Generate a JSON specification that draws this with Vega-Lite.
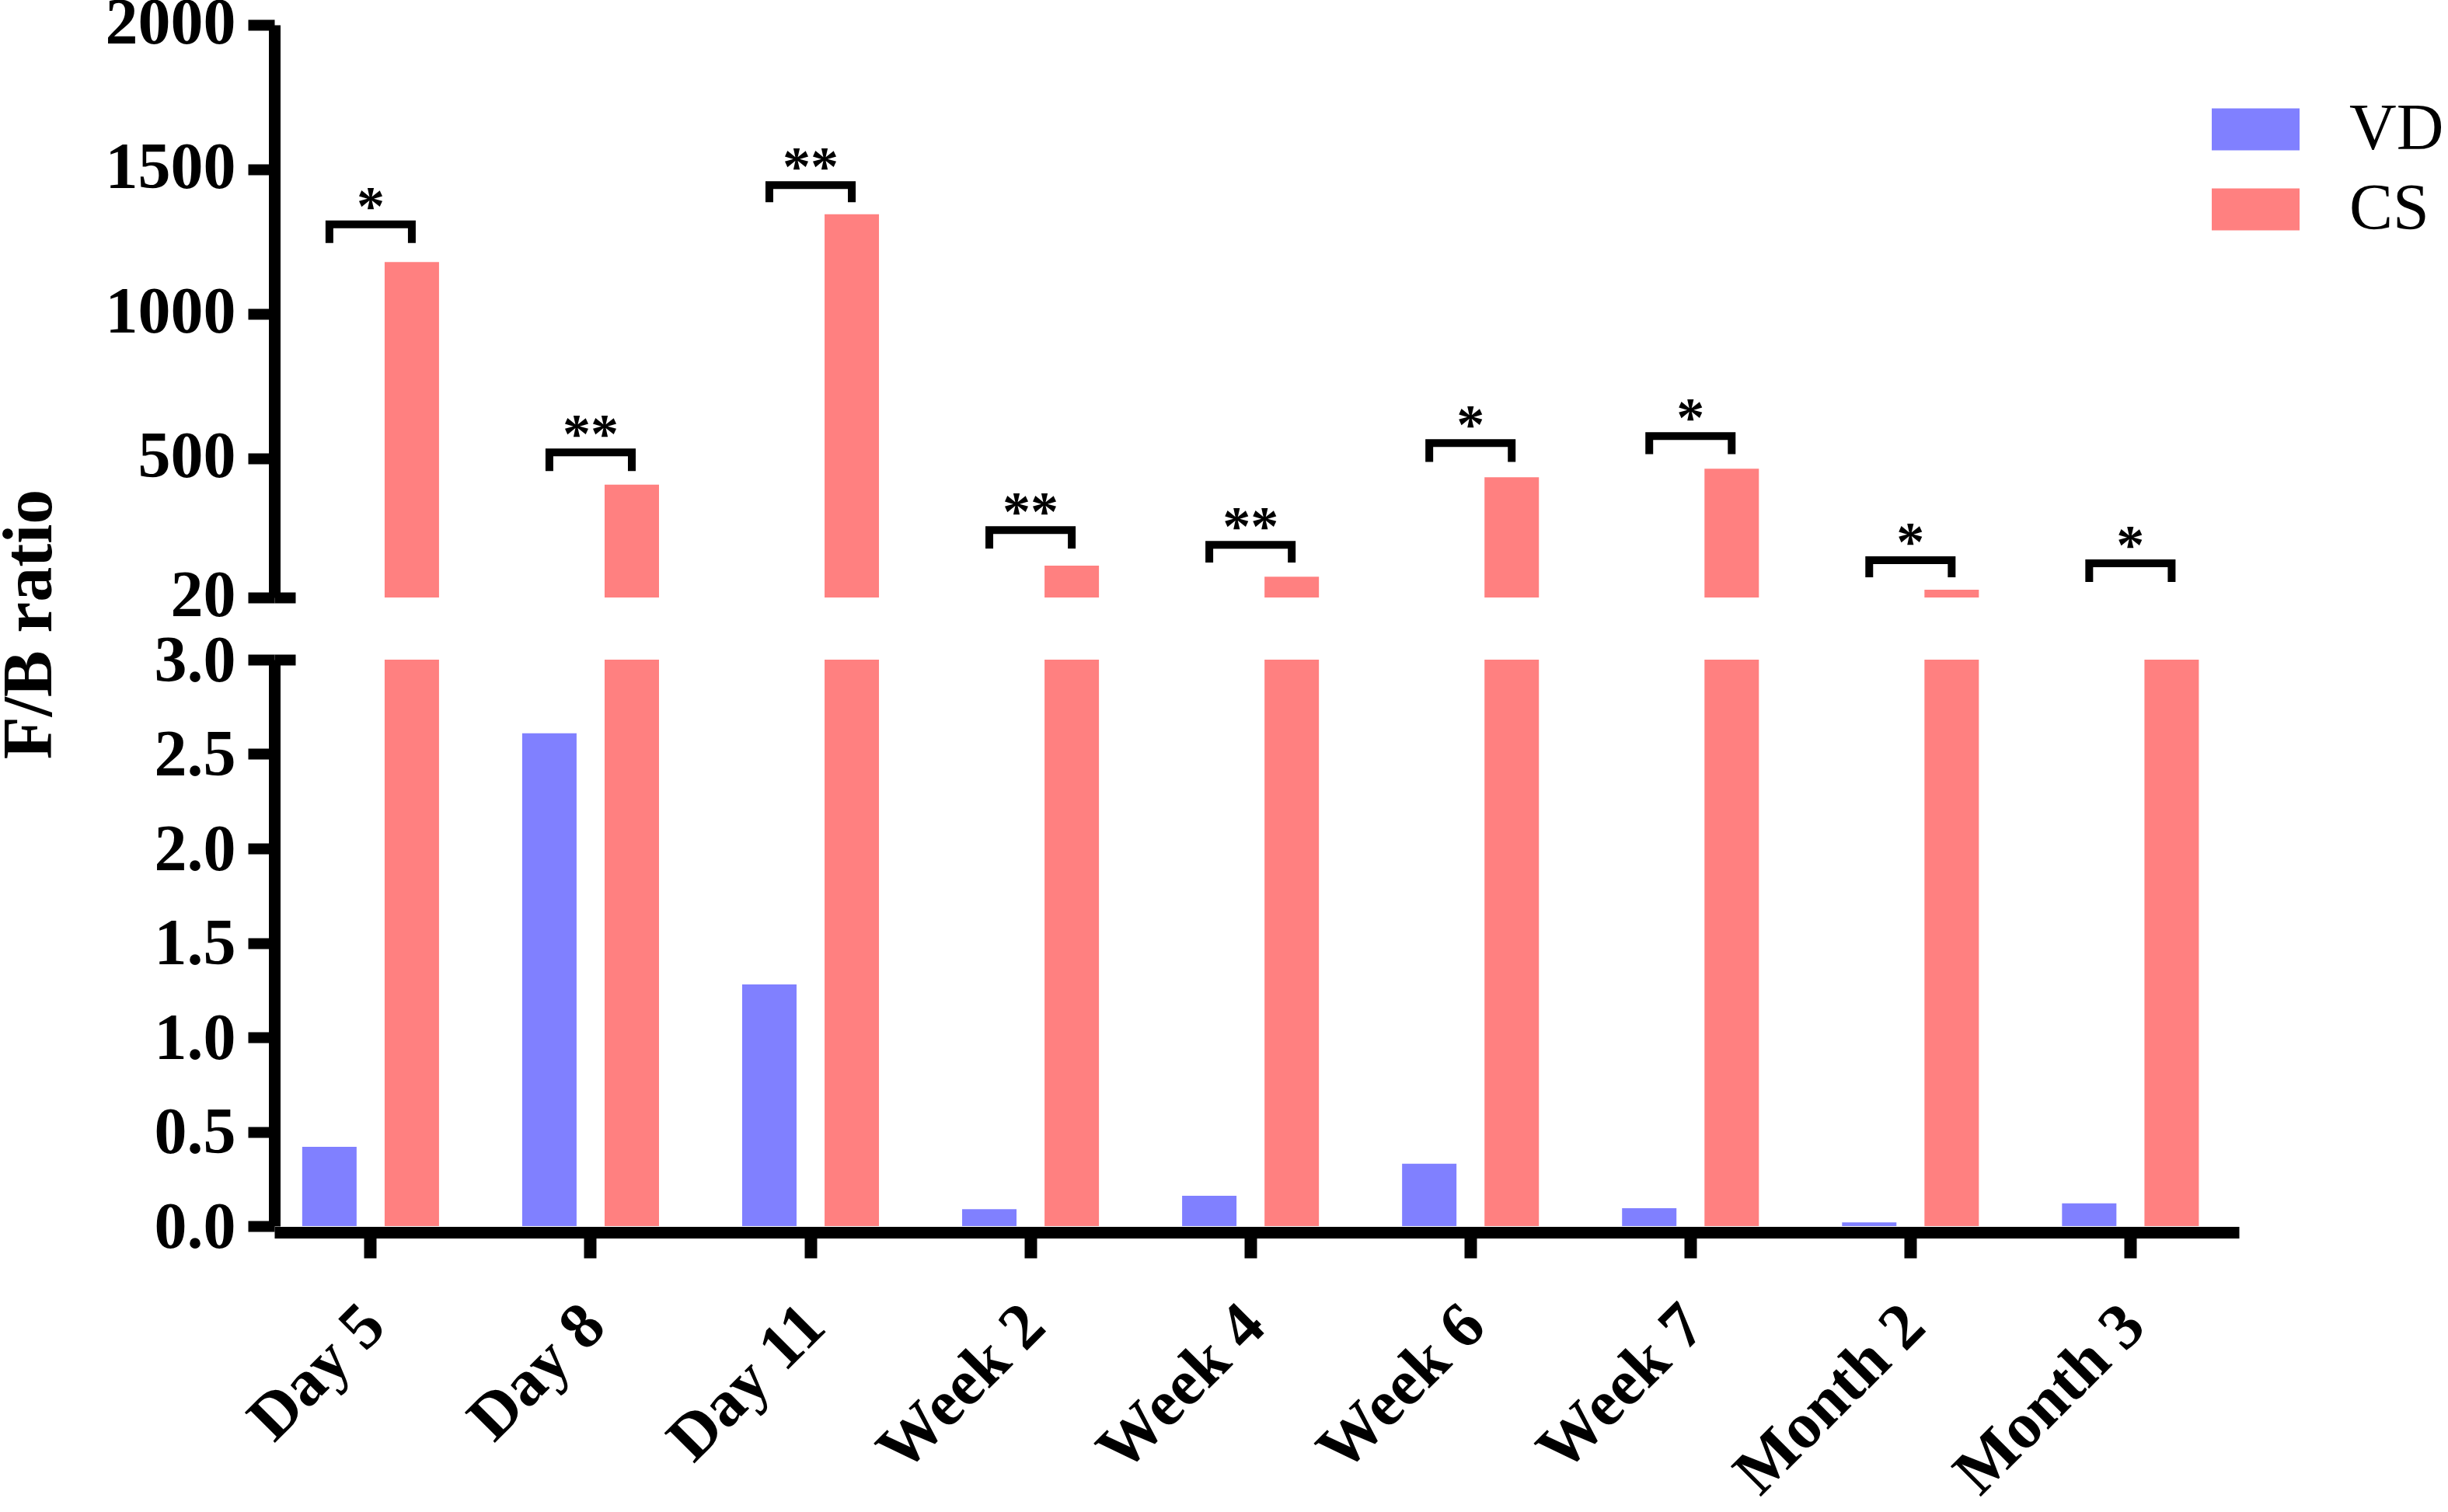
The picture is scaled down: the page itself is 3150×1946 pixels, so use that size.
{
  "$schema": "https://vega.github.io/schema/vega-lite/v6.json",
  "background": "white",
  "padding": {"left": -6, "top": -12, "right": 0, "bottom": 0},
  "title": {
    "text": "F/B ratio",
    "orient": "left",
    "anchor": "middle",
    "font": "Liberation Serif",
    "fontSize": 90,
    "fontWeight": "bold",
    "color": "black",
    "offset": 50,
    "dx": 160
  },
  "config": {
    "view": {"stroke": null},
    "font": "Liberation Serif",
    "axis": {
      "domainColor": "black",
      "domainWidth": 15,
      "tickColor": "black",
      "tickWidth": 14,
      "tickSize": 34,
      "labelFont": "Liberation Serif",
      "labelFontWeight": "bold",
      "labelColor": "black",
      "labelFontSize": 84,
      "labelFlush": false,
      "labelOverlap": false,
      "labelLimit": 0,
      "grid": false,
      "title": null
    }
  },
  "datasets": {
    "bars": [
      {"Time": "Day 5", "Group": "VD", "FB": 0.42},
      {"Time": "Day 5", "Group": "CS", "FB": 1180},
      {"Time": "Day 8", "Group": "VD", "FB": 2.61},
      {"Time": "Day 8", "Group": "CS", "FB": 410},
      {"Time": "Day 11", "Group": "VD", "FB": 1.28},
      {"Time": "Day 11", "Group": "CS", "FB": 1345},
      {"Time": "Week 2", "Group": "VD", "FB": 0.09},
      {"Time": "Week 2", "Group": "CS", "FB": 130},
      {"Time": "Week 4", "Group": "VD", "FB": 0.16},
      {"Time": "Week 4", "Group": "CS", "FB": 92},
      {"Time": "Week 6", "Group": "VD", "FB": 0.33},
      {"Time": "Week 6", "Group": "CS", "FB": 436},
      {"Time": "Week 7", "Group": "VD", "FB": 0.095},
      {"Time": "Week 7", "Group": "CS", "FB": 465},
      {"Time": "Month 2", "Group": "VD", "FB": 0.02},
      {"Time": "Month 2", "Group": "CS", "FB": 47},
      {"Time": "Month 3", "Group": "VD", "FB": 0.12},
      {"Time": "Month 3", "Group": "CS", "FB": 12}
    ],
    "brackets": [
      {"Time": "Day 5", "Group": "VD", "FB": 1246, "ord": 1},
      {"Time": "Day 5", "Group": "VD", "FB": 1310, "ord": 2},
      {"Time": "Day 5", "Group": "CS", "FB": 1310, "ord": 3},
      {"Time": "Day 5", "Group": "CS", "FB": 1246, "ord": 4},
      {"Time": "Day 8", "Group": "VD", "FB": 457, "ord": 1},
      {"Time": "Day 8", "Group": "VD", "FB": 522, "ord": 2},
      {"Time": "Day 8", "Group": "CS", "FB": 522, "ord": 3},
      {"Time": "Day 8", "Group": "CS", "FB": 457, "ord": 4},
      {"Time": "Day 11", "Group": "VD", "FB": 1387, "ord": 1},
      {"Time": "Day 11", "Group": "VD", "FB": 1446, "ord": 2},
      {"Time": "Day 11", "Group": "CS", "FB": 1446, "ord": 3},
      {"Time": "Day 11", "Group": "CS", "FB": 1387, "ord": 4},
      {"Time": "Week 2", "Group": "VD", "FB": 189, "ord": 1},
      {"Time": "Week 2", "Group": "VD", "FB": 253, "ord": 2},
      {"Time": "Week 2", "Group": "CS", "FB": 253, "ord": 3},
      {"Time": "Week 2", "Group": "CS", "FB": 189, "ord": 4},
      {"Time": "Week 4", "Group": "VD", "FB": 141, "ord": 1},
      {"Time": "Week 4", "Group": "VD", "FB": 202, "ord": 2},
      {"Time": "Week 4", "Group": "CS", "FB": 202, "ord": 3},
      {"Time": "Week 4", "Group": "CS", "FB": 141, "ord": 4},
      {"Time": "Week 6", "Group": "VD", "FB": 489, "ord": 1},
      {"Time": "Week 6", "Group": "VD", "FB": 554, "ord": 2},
      {"Time": "Week 6", "Group": "CS", "FB": 554, "ord": 3},
      {"Time": "Week 6", "Group": "CS", "FB": 489, "ord": 4},
      {"Time": "Week 7", "Group": "VD", "FB": 516, "ord": 1},
      {"Time": "Week 7", "Group": "VD", "FB": 578, "ord": 2},
      {"Time": "Week 7", "Group": "CS", "FB": 578, "ord": 3},
      {"Time": "Week 7", "Group": "CS", "FB": 516, "ord": 4},
      {"Time": "Month 2", "Group": "VD", "FB": 90, "ord": 1},
      {"Time": "Month 2", "Group": "VD", "FB": 149, "ord": 2},
      {"Time": "Month 2", "Group": "CS", "FB": 149, "ord": 3},
      {"Time": "Month 2", "Group": "CS", "FB": 90, "ord": 4},
      {"Time": "Month 3", "Group": "VD", "FB": 74, "ord": 1},
      {"Time": "Month 3", "Group": "VD", "FB": 138, "ord": 2},
      {"Time": "Month 3", "Group": "CS", "FB": 138, "ord": 3},
      {"Time": "Month 3", "Group": "CS", "FB": 74, "ord": 4}
    ],
    "stars": [
      {"Time": "Day 5", "FB": 1310, "label": "*"},
      {"Time": "Day 8", "FB": 522, "label": "**"},
      {"Time": "Day 11", "FB": 1446, "label": "**"},
      {"Time": "Week 2", "FB": 253, "label": "**"},
      {"Time": "Week 4", "FB": 202, "label": "**"},
      {"Time": "Week 6", "FB": 554, "label": "*"},
      {"Time": "Week 7", "FB": 578, "label": "*"},
      {"Time": "Month 2", "FB": 149, "label": "*"},
      {"Time": "Month 3", "FB": 138, "label": "*"}
    ]
  },
  "bounds": "flush",
  "spacing": 80,
  "vconcat": [
    {
      "width": 2528,
      "height": 737,
      "resolve": {"axis": {"y": "independent"}},
      "layer": [
        {
          "data": {"name": "bars"},
          "mark": {"type": "bar"},
          "encoding": {
            "x": {
              "field": "Time", "type": "nominal",
              "sort": ["Day 5", "Day 8", "Day 11", "Week 2", "Week 4", "Week 6", "Week 7", "Month 2", "Month 3"],
              "scale": {"paddingInner": 0.378, "paddingOuter": 0.1545, "align": 0.41},
              "axis": null
            },
            "xOffset": {"field": "Group", "type": "nominal", "scale": {"domain": ["VD", "CS"], "paddingInner": 0.34, "paddingOuter": 0}},
            "y": {
              "field": "FB", "type": "quantitative",
              "scale": {"domain": [20, 2000], "nice": false, "zero": false, "clamp": true},
              "axis": {"orient": "left", "values": [20, 500, 1000, 1500, 2000], "format": "d", "labelPadding": 16, "labelOffset": -2}
            },
            "color": {
              "field": "Group", "type": "nominal",
              "scale": {"domain": ["VD", "CS"], "range": ["#8080ff", "#ff8080"]},
              "legend": {
                "title": null,
                "orient": "none",
                "legendX": 2493,
                "legendY": 78,
                "padding": 0,
                "symbolType": "M-1,-0.478H1V0.478H-1Z",
                "symbolSize": 12769,
                "symbolStrokeWidth": 0,
                "labelFont": "Liberation Serif",
                "labelFontSize": 84,
                "labelFontWeight": "normal",
                "labelColor": "black",
                "labelOffset": 64,
                "labelLimit": 0,
                "rowPadding": 4
              }
            }
          }
        },
        {
          "data": {"name": "brackets"},
          "mark": {"type": "line", "color": "black", "strokeWidth": 10, "strokeJoin": "miter", "strokeCap": "butt"},
          "encoding": {
            "x": {
              "field": "Time", "type": "nominal",
              "sort": ["Day 5", "Day 8", "Day 11", "Week 2", "Week 4", "Week 6", "Week 7", "Month 2", "Month 3"]
            },
            "xOffset": {"field": "Group", "type": "nominal"},
            "y": {"field": "FB", "type": "quantitative", "axis": null},
            "detail": {"field": "Time"},
            "order": {"field": "ord", "type": "quantitative"}
          }
        },
        {
          "data": {"name": "stars"},
          "mark": {"type": "text", "font": "Liberation Serif", "fontWeight": "bold", "fontSize": 72, "baseline": "alphabetic", "color": "black"},
          "encoding": {
            "x": {
              "field": "Time", "type": "nominal",
              "sort": ["Day 5", "Day 8", "Day 11", "Week 2", "Week 4", "Week 6", "Week 7", "Month 2", "Month 3"]
            },
            "y": {
              "field": "FB", "type": "quantitative",
              "axis": {"orient": "left", "values": [20], "tickSize": -27, "domain": false, "labels": false}
            },
            "text": {"field": "label"}
          }
        }
      ]
    },
    {
      "width": 2528,
      "height": 729,
      "resolve": {"axis": {"y": "independent"}},
      "layer": [
        {
          "data": {"name": "bars"},
          "mark": {"type": "bar"},
          "encoding": {
            "x": {
              "field": "Time", "type": "nominal",
              "sort": ["Day 5", "Day 8", "Day 11", "Week 2", "Week 4", "Week 6", "Week 7", "Month 2", "Month 3"],
              "scale": {"paddingInner": 0.378, "paddingOuter": 0.1545, "align": 0.41},
              "axis": {
                "labelAngle": -45,
                "labelAlign": "right",
                "labelBaseline": "top",
                "labelFontSize": 84,
                "labelPadding": 45,
                "labelOffset": -24,
                "tickWidth": 16,
                "tickSize": 33,
                "offset": 8
              }
            },
            "xOffset": {"field": "Group", "type": "nominal", "scale": {"domain": ["VD", "CS"], "paddingInner": 0.34, "paddingOuter": 0}},
            "y": {
              "field": "FB", "type": "quantitative",
              "scale": {"domain": [0, 3], "nice": false, "clamp": true},
              "axis": {"orient": "left", "values": [0, 0.5, 1, 1.5, 2, 2.5, 3], "format": ".1f", "labelPadding": 16, "labelOffset": 2}
            },
            "color": {"field": "Group", "type": "nominal", "scale": {"domain": ["VD", "CS"], "range": ["#8080ff", "#ff8080"]}}
          }
        },
        {
          "data": {"name": "stars"},
          "mark": {"type": "text", "fontSize": 10},
          "encoding": {
            "x": {
              "field": "Time", "type": "nominal",
              "sort": ["Day 5", "Day 8", "Day 11", "Week 2", "Week 4", "Week 6", "Week 7", "Month 2", "Month 3"]
            },
            "y": {
              "field": "FB", "type": "quantitative",
              "scale": {"domain": [0, 3], "nice": false, "clamp": true},
              "axis": {"orient": "left", "values": [3], "tickSize": -27, "domain": false, "labels": false}
            },
            "text": {"value": ""}
          }
        }
      ]
    }
  ]
}
